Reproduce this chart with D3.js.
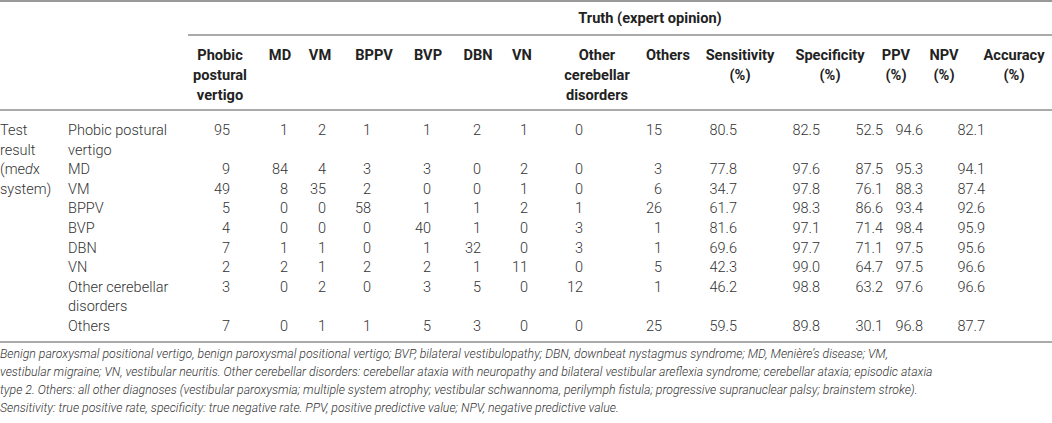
<!DOCTYPE html>
<html>
<head>
<meta charset="utf-8">
<script src="https://d3js.org/d3.v7.min.js"></script>
<style>
  body { margin: 0; background: #fff; }
  svg { display: block; }
  .hd { font-family: Roboto, "Liberation Sans", sans-serif; font-weight: 700; font-size: 14.6px; fill: #222; }
  .bd { font-family: Roboto, "Liberation Sans", sans-serif; font-weight: 300; font-size: 14.5px; fill: #333; }
  .fn { font-family: Roboto, "Liberation Sans", sans-serif; font-weight: 300; font-style: italic; font-size: 12.3px; fill: #333; }
</style>
</head>
<body>
<svg id="chart"></svg>
<script>
// table content
var spanTitle = "Truth (expert opinion)";
var colKeys = ["ppv_c", "md", "vm", "bppv", "bvp", "dbn", "vn", "ocd", "oth", "sens", "spec", "ppv", "npv", "acc"];
var colHeaders = [
  ["Phobic", "postural", "vertigo"], ["MD"], ["VM"], ["BPPV"], ["BVP"], ["DBN"], ["VN"],
  ["Other", "cerebellar", "disorders"], ["Others"], ["Sensitivity", "(%)"], ["Specificity", "(%)"],
  ["PPV", "(%)"], ["NPV", "(%)"], ["Accuracy", "(%)"]
];
var sideLabel = ["Test", "result", "(me<i>d</i>x", "system)"];
var rowLabels = [
  ["Phobic postural", "vertigo"], ["MD"], ["VM"], ["BPPV"], ["BVP"], ["DBN"], ["VN"],
  ["Other cerebellar", "disorders"], ["Others"]
];
var counts = [
  [95, 1, 2, 1, 1, 2, 1, 0, 15],
  [9, 84, 4, 3, 3, 0, 2, 0, 3],
  [49, 8, 35, 2, 0, 0, 1, 0, 6],
  [5, 0, 0, 58, 1, 1, 2, 1, 26],
  [4, 0, 0, 0, 40, 1, 0, 3, 1],
  [7, 1, 1, 0, 1, 32, 0, 3, 1],
  [2, 2, 1, 2, 2, 1, 11, 0, 5],
  [3, 0, 2, 0, 3, 5, 0, 12, 1],
  [7, 0, 1, 1, 5, 3, 0, 0, 25]
];
var sensitivity = ["80.5", "77.8", "34.7", "61.7", "81.6", "69.6", "42.3", "46.2", "59.5"];
var specificity = ["82.5", "97.6", "97.8", "98.3", "97.1", "97.7", "99.0", "98.8", "89.8"];
var ppvVals = ["52.5", "87.5", "76.1", "86.6", "71.4", "71.1", "64.7", "63.2", "30.1"];
var npvVals = ["94.6", "95.3", "88.3", "93.4", "98.4", "97.5", "97.5", "97.6", "96.8"];
var accuracy = ["82.1", "94.1", "87.4", "92.6", "95.9", "95.6", "96.6", "96.6", "87.7"];
var footnote = [
  "Benign paroxysmal positional vertigo, benign paroxysmal positional vertigo; BVP, bilateral vestibulopathy; DBN, downbeat nystagmus syndrome; MD, Menière\u2019s disease; VM,",
  "vestibular migraine; VN, vestibular neuritis. Other cerebellar disorders: cerebellar ataxia with neuropathy and bilateral vestibular areflexia syndrome; cerebellar ataxia; episodic ataxia",
  "type 2. Others: all other diagnoses (vestibular paroxysmia; multiple system atrophy; vestibular schwannoma, perilymph fistula; progressive supranuclear palsy; brainstem stroke).",
  "Sensitivity: true positive rate, specificity: true negative rate. PPV, positive predictive value; NPV, negative predictive value."
];

var width = 1052, height = 423;
var svg = d3.select("#chart").attr("width", width).attr("height", height);

// column header centres and value right edges
var headX = d3.scaleOrdinal().domain(colKeys)
  .range([220, 280, 320, 374, 428, 478, 522, 597, 668, 740, 830, 896, 944, 1014]);
var valX = d3.scaleOrdinal().domain(colKeys)
  .range([230, 288, 326, 371, 431, 481, 528, 583, 662, 737, 820, 883, 923, 985]);

// line index -> baseline
var headY = d3.scaleLinear().domain([0, 1]).range([60, 80]);
var bodyY = d3.scaleLinear().domain([0, 1]).range([135, 154.6]);
var noteY = d3.scaleLinear().domain([0, 1]).range([357.5, 375.5]);

// rules
var rules = [
  {x1: 0, x2: width, y: 1, c: "#999"},
  {x1: 188, x2: width, y: 35, c: "#aaa"},
  {x1: 0, x2: width, y: 110, c: "#aaa"},
  {x1: 0, x2: width, y: 342, c: "#aaa"}
];
svg.selectAll("line.rule").data(rules).join("line")
  .attr("class", "rule")
  .attr("x1", d => d.x1).attr("x2", d => d.x2)
  .attr("y1", d => d.y).attr("y2", d => d.y)
  .attr("stroke", d => d.c).attr("stroke-width", 2);

// spanning title
svg.append("text").attr("class", "hd")
  .attr("x", 650).attr("y", 23).attr("text-anchor", "middle")
  .text(spanTitle);

// column headers
var hg = svg.selectAll("g.colhead").data(colKeys).join("g").attr("class", "colhead");
hg.each(function(k, i) {
  d3.select(this).selectAll("text").data(colHeaders[i]).join("text")
    .attr("class", "hd")
    .attr("x", headX(k)).attr("y", (d, j) => headY(j))
    .attr("text-anchor", "middle")
    .text(d => d);
});

// side label
svg.selectAll("text.side").data(sideLabel).join("text")
  .attr("class", "bd side")
  .attr("x", 0).attr("y", (d, j) => bodyY(j))
  .html(d => d.replace("<i>d</i>", "<tspan font-style='italic'>d</tspan>"));

// body rows
var startLine = [];
var acc = 0;
rowLabels.forEach(function(r) { startLine.push(acc); acc += r.length; });

var rows = svg.selectAll("g.row").data(rowLabels).join("g").attr("class", "row");
rows.each(function(lab, i) {
  var g = d3.select(this);
  var y0 = bodyY(startLine[i]);
  g.selectAll("text.lab").data(lab).join("text")
    .attr("class", "bd lab")
    .attr("x", 68).attr("y", (d, j) => bodyY(startLine[i] + j))
    .text(d => d);
  var vals = counts[i].map(String)
    .concat([sensitivity[i], specificity[i], ppvVals[i], npvVals[i], accuracy[i]]);
  g.selectAll("text.val").data(vals).join("text")
    .attr("class", "bd val")
    .attr("x", (d, j) => valX(colKeys[j])).attr("y", y0)
    .attr("text-anchor", "end")
    .text(d => d);
});

// footnote
svg.selectAll("text.note").data(footnote).join("text")
  .attr("class", "fn note")
  .attr("x", 0).attr("y", (d, j) => noteY(j))
  .text(d => d);
</script>
</body>
</html>
